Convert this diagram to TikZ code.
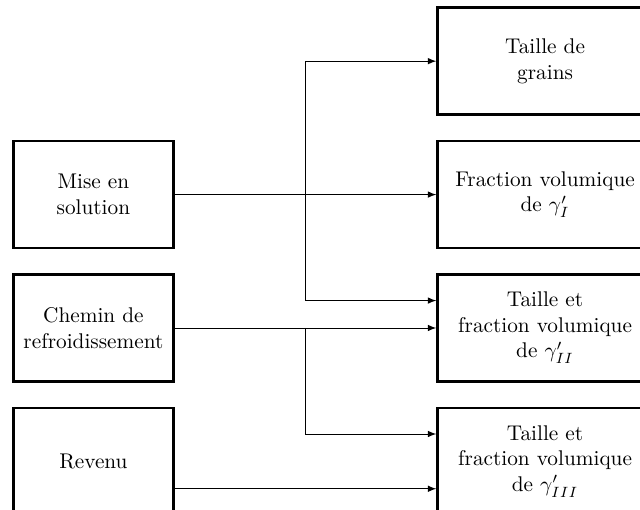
\documentclass[tikz,border=0pt]{standalone}
\usetikzlibrary{matrix,positioning,calc,arrows}

\begin{document}
\begin{tikzpicture}[
        box/.style={
          draw,
          rectangle,
          line width=1.2pt,
          anchor=center,
          inner xsep=1pt,
          minimum height=50.3pt
          },
        net/.style={
          matrix of nodes,
          inner sep=0pt,
          nodes={box},
          column sep=123pt,
          row sep=11.2pt,
          column 1/.style={nodes={minimum width=75.2pt}},
          column 2/.style={nodes={minimum width=101pt}}
          },
        >=latex
        ]
        \useasboundingbox (0,0) rectangle (300.8pt,-239.7pt);
        \clip (0,0) rectangle (300.8pt,-239.7pt);
        \matrix[net, anchor=north west] (mat) at (5.5pt,-2.8pt)
        {
        & \parbox{99pt}{\centering Taille de\\grains} \\
        \parbox{73pt}{\centering Mise en\\solution} & \parbox{99pt}{\centering Fraction volumique\\de $\gamma'_I$} \\
        \parbox{73pt}{\centering Chemin de\\refroidissement} & \parbox{99pt}{\centering Taille et\\fraction volumique\\de $\gamma'_{II}$} \\
        \parbox{73pt}{\centering Revenu} & \parbox{99pt}{\centering Taille et\\fraction volumique\\de $\gamma'_{III}$} \\
        };
        % junctions half way between the two columns
        \coordinate (jsol) at ($(mat-2-1.east)!0.5!(mat-2-2.west)$);
        \coordinate (jref) at ($(mat-3-1.east)!0.5!(mat-3-2.west)$);
        \coordinate (gii) at ($(mat-3-2.north west)!0.25!(mat-3-2.south west)$);
        \coordinate (giiia) at ($(mat-4-2.north west)!0.25!(mat-4-2.south west)$);
        \coordinate (giiib) at ($(mat-4-2.north west)!0.75!(mat-4-2.south west)$);
        \draw[->] (mat-2-1) -- (mat-2-2);
        \draw[->] (jsol) |- (mat-1-2);
        \draw[->] (jsol) |- (gii);
        \draw[->] (mat-3-1) -- (mat-3-2);
        \draw[->] (jref) |- (giiia);
        \draw[->] (mat-4-1.east |- giiib) -- (giiib);
        \end{tikzpicture}
\end{document}
